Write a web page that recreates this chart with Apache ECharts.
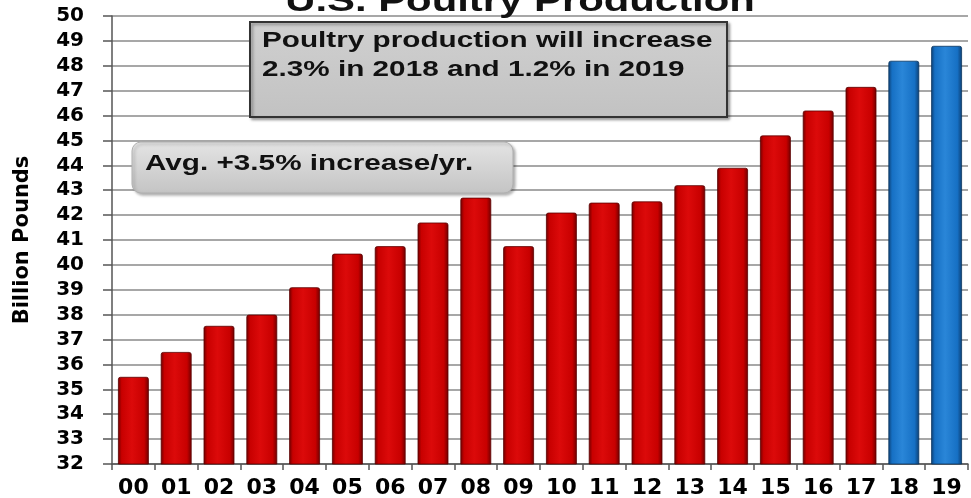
<!DOCTYPE html>
<html>
<head>
<meta charset="utf-8">
<script src="https://cdn.jsdelivr.net/npm/echarts@6/dist/echarts.min.js"></script>
<style>
  html, body { margin: 0; padding: 0; background: #fff; }
  #chart { width: 971px; height: 498px; }
</style>
</head>
<body>
<div id="chart"></div>
<script>
// years (2000 - 2019)
const years = ['00', '01', '02', '03', '04', '05', '06', '07', '08', '09',
  '10', '11', '12', '13', '14', '15', '16', '17', '18', '19']
// billion pounds
const production = [35.5, 36.5, 37.55, 38.0, 39.1, 40.45, 40.75, 41.7, 42.7, 40.75,
  42.1, 42.5, 42.55, 43.2, 43.9, 45.2, 46.2, 47.15, 48.2, 48.8]
// 18 and 19 are forecasts (blue)
const forecast = ['18', '19']

const font = 'Liberation Sans, Arial, sans-serif'
const wide = 'DejaVu Sans, sans-serif'
// the picture is stretched sideways, so texts are widened too
const stretch = 1.35

function barColor(dark, mid, light) {
  return new echarts.graphic.LinearGradient(0, 0, 1, 0, [
    { offset: 0, color: dark },
    { offset: 0.12, color: mid },
    { offset: 0.45, color: light },
    { offset: 0.85, color: mid },
    { offset: 1, color: dark }
  ])
}
const red = barColor('#6e0000', '#c80000', '#dc0a0a')
const blue = barColor('#0d3f73', '#1670c4', '#2a86d8')

function label(text, x, y, size, align) {
  return {
    type: 'text',
    x: x,
    y: y,
    scaleX: stretch,
    z: 11,
    style: {
      text: text,
      x: 0,
      y: 0,
      align: align || 'left',
      verticalAlign: 'middle',
      font: 'bold ' + size + 'px ' + font,
      fill: '#111'
    }
  }
}

const chart = echarts.init(document.getElementById('chart'))
chart.setOption({
  animation: false,
  grid: { left: 112, right: 3, top: 16, bottom: 34, outerBoundsMode: 'none' },
  xAxis: {
    type: 'category',
    data: years,
    axisLine: { lineStyle: { color: '#555', width: 1.5 } },
    axisTick: { show: true, length: 6, lineStyle: { color: '#555', width: 1.5 } },
    axisLabel: { margin: 13, fontFamily: wide, fontWeight: 'bold', fontSize: 22, color: '#000' }
  },
  yAxis: {
    type: 'value',
    min: 32,
    max: 50,
    interval: 1,
    name: 'Billion Pounds',
    nameLocation: 'middle',
    nameGap: 79,
    nameTextStyle: { fontFamily: wide, fontWeight: 'bold', fontSize: 21, color: '#000' },
    axisLine: { show: true, lineStyle: { color: '#555', width: 1.5 } },
    axisTick: { show: true, length: 9, lineStyle: { color: '#555', width: 1.5 } },
    axisLabel: { margin: 28, fontFamily: wide, fontWeight: 'bold', fontSize: 20, color: '#000' },
    splitLine: { lineStyle: { color: '#8a8a8a', width: 1.5 } }
  },
  series: [{
    type: 'bar',
    barCategoryGap: '28%',
    data: production.map((v, i) => ({
      value: v,
      itemStyle: {
        color: forecast.includes(years[i]) ? blue : red,
        borderColor: forecast.includes(years[i]) ? '#0a3560' : '#5a0000',
        borderWidth: 0.8,
        borderRadius: [2, 2, 0, 0]
      }
    }))
  }],
  graphic: [
    label('U.S. Poultry Production', 520, 2, 31, 'center'),
    {
      type: 'rect',
      shape: { x: 250, y: 22, width: 477, height: 95 },
      style: {
        fill: new echarts.graphic.LinearGradient(0, 0, 0, 1, [
          { offset: 0, color: '#d0d0d0' },
          { offset: 1, color: '#c2c2c2' }
        ]),
        stroke: '#333', lineWidth: 2,
        shadowColor: 'rgba(0,0,0,0.35)', shadowBlur: 3, shadowOffsetX: 2, shadowOffsetY: 2
      },
      z: 10
    },
    label('Poultry production will increase', 262, 41, 22),
    label('2.3% in 2018 and 1.2% in 2019', 262, 70, 22),
    {
      type: 'rect',
      shape: { x: 132, y: 142, width: 381, height: 51, r: 9 },
      style: {
        fill: new echarts.graphic.LinearGradient(0, 0, 0, 1, [
          { offset: 0, color: '#e4e4e4' },
          { offset: 1, color: '#c4c4c4' }
        ]),
        stroke: '#b0b0b0', lineWidth: 1,
        shadowColor: 'rgba(0,0,0,0.3)', shadowBlur: 3, shadowOffsetX: 2, shadowOffsetY: 2
      },
      z: 10
    },
    label('Avg. +3.5% increase/yr.', 145, 164, 22)
  ]
})
</script>
</body>
</html>
